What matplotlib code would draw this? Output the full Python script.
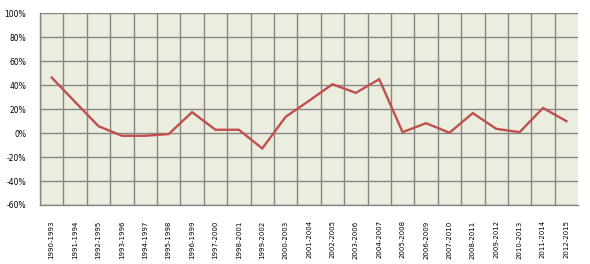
import matplotlib.pyplot as plt
import numpy as np
from matplotlib.ticker import FuncFormatter

periods = ['1990-1993', '1991-1994', '1992-1995', '1993-1996', '1994-1997', '1995-1998',
           '1996-1999', '1997-2000', '1998-2001', '1999-2002', '2000-2003', '2001-2004',
           '2002-2005', '2003-2006', '2004-2007', '2005-2008', '2006-2009', '2007-2010',
           '2008-2011', '2009-2012', '2010-2013', '2011-2014', '2012-2015']
growth = [46.4, 26.0, 5.8, -2.2, -2.2, -0.8, 17.5, 2.8, 2.8, -12.8, 13.6, 27.0,
          40.8, 33.6, 45.0, 0.8, 8.3, 0.3, 16.7, 3.6, 0.8, 21.0, 10.0]

fig = plt.figure(figsize=(5.9, 2.64), dpi=100)
ax = fig.add_axes([0.0678, 0.2235, 0.912, 0.726])
ax.set_facecolor('#EBEEDF')

x = np.arange(len(periods))
ax.plot(x, growth, color='#C0504D', linewidth=1.7, solid_joinstyle='miter', zorder=3)

ax.set_xlim(-0.5, len(periods) - 0.5)
ax.set_ylim(-60, 100)
ax.set_yticks(np.arange(-60, 101, 20))
ax.yaxis.set_major_formatter(FuncFormatter(lambda v, p: '%d%%' % v))

ax.set_xticks(x)
ax.set_xticklabels(periods, rotation=90, fontsize=5.0, va='top')
# vertical gridlines between categories (none on the right edge)
ax.set_xticks(np.arange(-0.5, len(periods) - 1, 1.0), minor=True)
ax.tick_params(axis='x', which='both', length=0, pad=11)
ax.tick_params(axis='y', length=0, labelsize=5.5, pad=10)

ax.grid(True, which='minor', axis='x', color='#858585', linewidth=1.0)
ax.grid(True, which='major', axis='y', color='#858585', linewidth=1.0)
ax.set_axisbelow(True)

for side in ['top', 'right']:
    ax.spines[side].set_visible(False)
for side in ['left', 'bottom']:
    ax.spines[side].set_color('#858585')
    ax.spines[side].set_linewidth(1.0)

fig.savefig('out.png', dpi=100)
